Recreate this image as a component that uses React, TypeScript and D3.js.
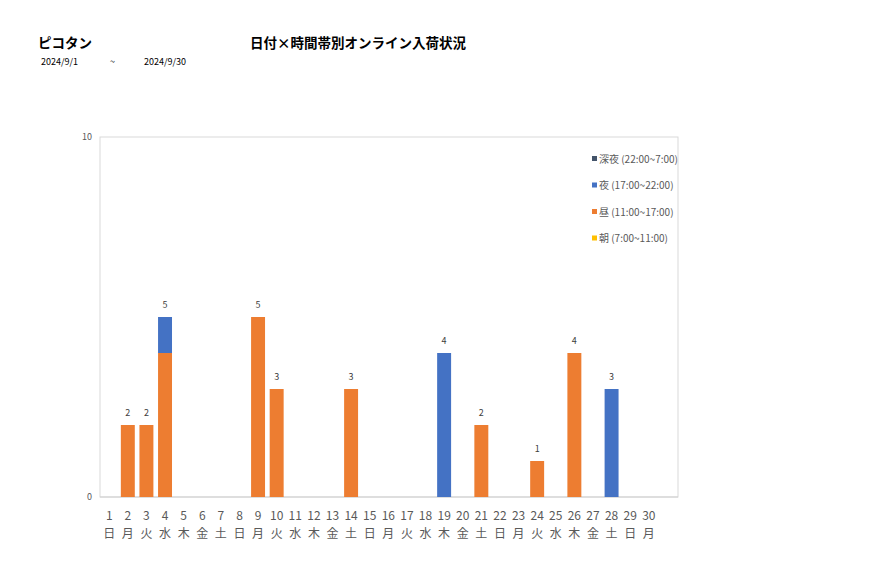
import React from "react";
import * as d3 from "d3";

const width = 877;
const height = 578;
const margin = { top: 137, right: 199, bottom: 81, left: 100 };

// chart data
const days = d3.range(1, 31).map(String);
const weekdays = ["日", "月", "火", "水", "木", "金", "土"];
const seriesNames = ["朝 (7:00~11:00)", "昼 (11:00~17:00)", "夜 (17:00~22:00)", "深夜 (22:00~7:00)"];
const seriesColors = ["#FFC000", "#ED7D31", "#4472C4", "#44546A"];
const morning = [0,0,0,0,0,0,0,0,0,0,0,0,0,0,0,0,0,0,0,0,0,0,0,0,0,0,0,0,0,0];
const daytime = [0,2,2,4,0,0,0,0,5,3,0,0,0,3,0,0,0,0,0,0,2,0,0,1,0,4,0,0,0,0];
const evening = [0,0,0,1,0,0,0,0,0,0,0,0,0,0,0,0,0,0,4,0,0,0,0,0,0,0,0,3,0,0];
const lateNight = [0,0,0,0,0,0,0,0,0,0,0,0,0,0,0,0,0,0,0,0,0,0,0,0,0,0,0,0,0,0];
const yTicks = [0, 10];

const font = "'Noto Sans CJK JP', 'Noto Sans', sans-serif";
const gray = "#595959";

export default function App() {
  const rows = days.map((d, i) => ({
    day: d,
    s0: morning[i],
    s1: daytime[i],
    s2: evening[i],
    s3: lateNight[i],
  }));
  const keys = ["s0", "s1", "s2", "s3"];
  const stacked = d3.stack<any>().keys(keys)(rows);

  const plotRight = width - margin.right;
  const plotBottom = height - margin.bottom;

  const x = d3
    .scaleBand()
    .domain(days)
    .range([margin.left, 658])
    .paddingInner(0.25)
    .paddingOuter(0.12);

  const y = d3.scaleLinear().domain([0, 10]).range([plotBottom, margin.top]);

  const totals = rows.map((r) => r.s0 + r.s1 + r.s2 + r.s3);

  return (
    <svg width={width} height={height} style={{ position: "absolute", left: 0, top: 0, fontFamily: font }}>
      <rect width={width} height={height} fill="#fff" />

      {/* headings */}
      <text x={38} y={48} fontSize={13.5} fontWeight={600} fill="#000">ピコタン</text>
      <text x={250} y={48} fontSize={13.5} fontWeight={600} fill="#000">日付×時間帯別オンライン入荷状況</text>
      <text x={41} y={65} fontSize={9} fill="#000">2024/9/1</text>
      <text x={110} y={65} fontSize={9} fill="#000">~</text>
      <text x={144} y={65} fontSize={9} fill="#000">2024/9/30</text>

      {/* plot frame */}
      <rect
        x={margin.left}
        y={margin.top}
        width={plotRight - margin.left}
        height={plotBottom - margin.top}
        fill="none"
        stroke="#d9d9d9"
        strokeWidth={1}
      />
      <line x1={margin.left} x2={plotRight} y1={plotBottom} y2={plotBottom} stroke="#d0d0d0" />

      {yTicks.map((t) => (
        <text key={t} x={92} y={y(t) + 3} fontSize={9} fill={gray} textAnchor="end">
          {t}
        </text>
      ))}

      {/* stacked bars */}
      {stacked.map((layer, li) => (
        <g key={li} fill={seriesColors[li]}>
          {layer.map((d, i) =>
            d[1] - d[0] > 0 ? (
              <rect
                key={i}
                x={x(days[i])}
                y={y(d[1])}
                width={x.bandwidth()}
                height={y(d[0]) - y(d[1])}
              />
            ) : null
          )}
        </g>
      ))}

      {/* totals */}
      {totals.map((t, i) =>
        t > 0 ? (
          <text
            key={i}
            x={(x(days[i]) as number) + x.bandwidth() / 2}
            y={y(t) - 9}
            fontSize={9}
            fill="#404040"
            textAnchor="middle"
          >
            {t}
          </text>
        ) : null
      )}

      {/* x labels */}
      {days.map((d, i) => (
        <g key={d} transform={`translate(${(x(d) as number) + x.bandwidth() / 2},0)`}>
          <text y={520} fontSize={12} fill={gray} textAnchor="middle">{d}</text>
          <text y={538} fontSize={12} fill={gray} textAnchor="middle">{weekdays[i % 7]}</text>
        </g>
      ))}

      {/* legend */}
      {[3, 2, 1, 0].map((si, k) => (
        <g key={si} transform={`translate(592,${159 + k * 26.5})`}>
          <rect x={0} y={-3} width={5} height={5} fill={seriesColors[si]} />
          <text x={7} y={3.5} fontSize={10} fill={gray}>{seriesNames[si]}</text>
        </g>
      ))}
    </svg>
  );
}
